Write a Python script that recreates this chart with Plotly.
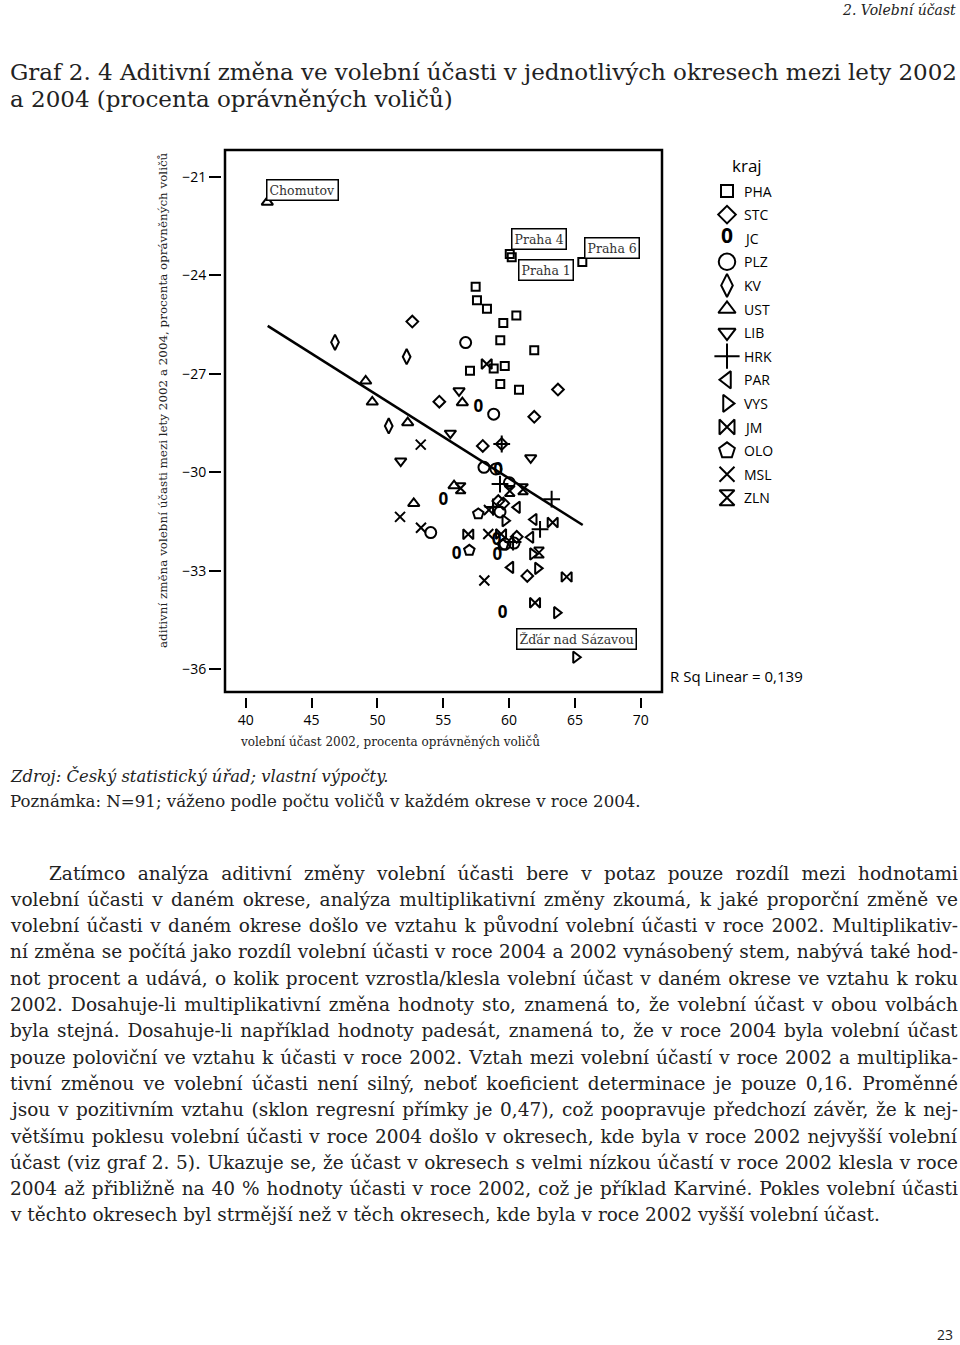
import json
import plotly.graph_objects as go

W, H = 960, 1345

# ---------------- data ----------------
kraje = ["PHA", "STC", "JC", "PLZ", "KV", "UST", "LIB", "HRK", "PAR", "VYS", "JM", "OLO", "MSL", "ZLN"]

PHA_x = [60.05, 60.2, 65.56, 57.46, 57.56, 58.32, 59.56, 60.55, 59.33, 61.91, 58.83, 59.67, 57.03, 59.33, 60.75]
PHA_y = [-23.35, -23.45, -23.59, -24.35, -24.76, -25.02, -25.45, -25.22, -25.98, -26.28, -26.84, -26.76, -26.91, -27.31, -27.49]

STC_x = [52.65, 54.70, 63.71, 61.91, 58.00, 59.44, 59.18, 59.56, 60.58, 61.38]
STC_y = [-25.41, -27.85, -27.48, -28.31, -29.20, -29.14, -30.88, -30.95, -31.97, -33.16]

JC_x = [57.66, 55.00, 59.16, 59.06, 56.02, 59.10, 59.51]
JC_y = [-28.05, -30.86, -29.95, -32.08, -32.52, -32.55, -34.30]

PLZ_x = [56.70, 58.83, 54.05, 58.09, 59.00, 60.02, 59.31, 59.69, 60.37]
PLZ_y = [-26.05, -28.23, -31.84, -29.85, -29.90, -30.32, -31.21, -32.19, -32.16]

KV_x = [46.78, 52.22, 50.86]
KV_y = [-26.04, -26.48, -28.59]

UST_x = [41.64, 49.11, 49.61, 52.30, 56.45, 52.76, 55.82]
UST_y = [-21.77, -27.22, -27.86, -28.49, -27.88, -30.95, -30.41]

LIB_x = [56.20, 51.77, 55.54, 61.64]
LIB_y = [-27.52, -29.66, -28.81, -29.56]

HRK_x = [59.44, 59.31, 63.23, 62.35, 58.78, 60.30]
HRK_y = [-29.14, -30.36, -30.82, -31.74, -31.06, -32.13]

PAR_x = [60.62, 61.89, 61.64, 60.12]
PAR_y = [-31.07, -31.44, -31.98, -32.90]

VYS_x = [59.69, 61.79, 62.17, 63.61, 65.06]
VYS_y = [-31.48, -32.49, -32.93, -34.28, -35.64]

JM_x = [58.30, 63.31, 56.90, 59.39, 64.37, 61.97]
JM_y = [-26.70, -31.53, -31.89, -31.88, -33.19, -33.98]

OLO_x = [57.66, 56.98, 59.54]
OLO_y = [-31.27, -32.38, -32.22]

MSL_x = [53.29, 51.72, 53.31, 58.47, 58.42, 58.12]
MSL_y = [-29.16, -31.36, -31.69, -31.15, -31.88, -33.30]

ZLN_x = [60.05, 61.06, 56.32, 62.27]
ZLN_y = [-30.57, -30.52, -30.49, -32.45]

fit_x = [41.67, 65.59]
fit_y = [-25.54, -31.61]

x_ticks = [40, 45, 50, 55, 60, 65, 70]
y_ticks = [-21, -24, -27, -30, -33, -36]

point_labels = ["Chomutov", "Praha 4", "Praha 1", "Praha 6", "Žďár nad Sázavou"]
label_points = [("UST", 0), ("PHA", 0), ("PHA", 1), ("PHA", 2), ("VYS", 4)]

r_sq_text = "R Sq Linear = 0,139"

data = {
    "PHA": (PHA_x, PHA_y), "STC": (STC_x, STC_y), "JC": (JC_x, JC_y),
    "PLZ": (PLZ_x, PLZ_y), "KV": (KV_x, KV_y), "UST": (UST_x, UST_y),
    "LIB": (LIB_x, LIB_y), "HRK": (HRK_x, HRK_y), "PAR": (PAR_x, PAR_y),
    "VYS": (VYS_x, VYS_y), "JM": (JM_x, JM_y), "OLO": (OLO_x, OLO_y),
    "MSL": (MSL_x, MSL_y), "ZLN": (ZLN_x, ZLN_y),
}

# ---------------- styles ----------------
SYM = {
    "PHA": ("square-open", 8), "STC": ("diamond-open", 9), "JC": (None, 0),
    "PLZ": ("circle-open", 11), "KV": ("diamond-tall-open", 11),
    "UST": ("triangle-up-open", 10), "LIB": ("triangle-down-open", 10),
    "HRK": ("cross-thin-open", 12), "PAR": ("triangle-left-open", 10),
    "VYS": ("triangle-right-open", 10), "JM": ("bowtie-open", 10),
    "OLO": ("pentagon-open", 11), "MSL": ("x-thin-open", 10),
    "ZLN": ("hourglass-open", 10),
}
LEG_SCALE = 1.5

SERIF = "DejaVu Serif"
SANS = "Open Sans"
TXT = "#222"


def px(x):
    return x / W


def py(y):
    return 1 - y / H


fig = go.Figure()

# regression line
fig.add_trace(go.Scatter(x=fit_x, y=fit_y, mode="lines",
                         line=dict(color="black", width=2.5),
                         showlegend=False, hoverinfo="skip"))

for k in kraje:
    xs, ys = data[k]
    sym, size = SYM[k]
    if sym is None:
        fig.add_trace(go.Scatter(x=xs, y=ys, mode="text", text=["0"] * len(xs),
                                 textfont=dict(family=SANS, size=17, color="black", weight="bold"),
                                 showlegend=False, name=k))
    else:
        fig.add_trace(go.Scatter(x=xs, y=ys, mode="markers", name=k, showlegend=False,
                                 marker=dict(symbol=sym, size=size, color="black",
                                             line=dict(color="black", width=2))))

# manual legend on its own axes
LEG_X0, LEG_X1 = 700, 830
leg_y_top, leg_step = 191, 23.6
for i, k in enumerate(kraje):
    sym, size = SYM[k]
    lx = (727 - LEG_X0) / (LEG_X1 - LEG_X0)
    if sym is None:
        fig.add_trace(go.Scatter(x=[lx], y=[i], mode="text", text=["0"],
                                 textfont=dict(family=SANS, size=21, color="black", weight="bold"),
                                 xaxis="x2", yaxis="y2", showlegend=False))
    else:
        fig.add_trace(go.Scatter(x=[lx], y=[i], mode="markers",
                                 marker=dict(symbol=sym, size=size * LEG_SCALE, color="black",
                                             line=dict(color="black", width=2)),
                                 xaxis="x2", yaxis="y2", showlegend=False))

annotations = []
for i, k in enumerate(kraje):
    annotations.append(dict(xref="paper", yref="paper", x=px(742), y=py(leg_y_top + i * leg_step),
                            xanchor="left", yanchor="middle", text=k, showarrow=False,
                            font=dict(family=SANS, size=14, color="black")))
annotations.append(dict(xref="paper", yref="paper", x=px(747), y=py(165), xanchor="center",
                        yanchor="middle", text="kraj", showarrow=False,
                        font=dict(family=SANS, size=17, color="black")))
annotations.append(dict(xref="paper", yref="paper", x=px(668), y=py(676), xanchor="left",
                        yanchor="middle", text=r_sq_text, showarrow=False,
                        font=dict(family=SANS, size=15, color="black")))

# point labels
label_style = {
    "Chomutov": dict(xanchor="left", yanchor="bottom", xshift=-1, yshift=1),
    "Praha 4": dict(xanchor="left", yanchor="bottom", xshift=1, yshift=4),
    "Praha 1": dict(xanchor="left", yanchor="top", xshift=6, yshift=-2),
    "Praha 6": dict(xanchor="left", yanchor="bottom", xshift=2, yshift=3),
    "Žďár nad Sázavou": dict(xanchor="center", yanchor="bottom", xshift=1, yshift=7),
}
for name, (k, idx) in zip(point_labels, label_points):
    xs, ys = data[k]
    st = label_style[name]
    annotations.append(dict(xref="x", yref="y", x=xs[idx], y=ys[idx], text=name, showarrow=False,
                            bordercolor="black", borderwidth=1.5, borderpad=2, bgcolor="white",
                            font=dict(family=SERIF, size=12.5, color="#333"), **st))

# axis titles
annotations.append(dict(xref="paper", yref="paper", x=px(238), y=py(741), xanchor="left",
                        yanchor="middle", showarrow=False,
                        text="volební účast 2002, procenta oprávněných voličů",
                        font=dict(family=SERIF, size=12, color=TXT)))
annotations.append(dict(xref="paper", yref="paper", x=px(163), y=py(400), xanchor="center",
                        yanchor="middle", showarrow=False, textangle=-90,
                        text="aditivní změna volební účasti mezi lety 2002 a 2004, procenta oprávněných voličů",
                        font=dict(family=SERIF, size=11.9, color=TXT)))

# page texts
annotations.append(dict(xref="paper", yref="paper", x=px(958), y=py(10), xanchor="right",
                        yanchor="middle", showarrow=False, text="<i>2. Volební účast</i>",
                        font=dict(family=SERIF, size=14, color=TXT)))
title_lines = ["Graf 2. 4 Aditivní změna ve volební účasti v jednotlivých okresech mezi lety 2002",
               "a 2004 (procenta oprávněných voličů)"]
for j, t in enumerate(title_lines):
    annotations.append(dict(xref="paper", yref="paper", x=px(8), y=py(72 + 27 * j), xanchor="left",
                            yanchor="middle", align="left", showarrow=False, text=t,
                            font=dict(family=SERIF, size=23, color=TXT)))

annotations.append(dict(xref="paper", yref="paper", x=px(8), y=py(776), xanchor="left",
                        yanchor="middle", showarrow=False,
                        text="<i>Zdroj: Český statistický úřad; vlastní výpočty.</i>",
                        font=dict(family=SERIF, size=16.4, color=TXT)))
annotations.append(dict(xref="paper", yref="paper", x=px(8), y=py(801), xanchor="left",
                        yanchor="middle", showarrow=False,
                        text="Poznámka: N=91; váženo podle počtu voličů v každém okrese v roce 2004.",
                        font=dict(family=SERIF, size=16.6, color=TXT)))

body_lines = [
    "Zatímco analýza aditivní změny volební účasti bere v potaz pouze rozdíl mezi hodnotami",
    "volební účasti v daném okrese, analýza multiplikativní změny zkoumá, k jaké proporční změně ve",
    "volební účasti v daném okrese došlo ve vztahu k původní volební účasti v roce 2002. Multiplikativ-",
    "ní změna se počítá jako rozdíl volební účasti v roce 2004 a 2002 vynásobený stem, nabývá také hod-",
    "not procent a udává, o kolik procent vzrostla/klesla volební účast v daném okrese ve vztahu k roku",
    "2002. Dosahuje-li multiplikativní změna hodnoty sto, znamená to, že volební účast v obou volbách",
    "byla stejná. Dosahuje-li například hodnoty padesát, znamená to, že v roce 2004 byla volební účast",
    "pouze poloviční ve vztahu k účasti v roce 2002. Vztah mezi volební účastí v roce 2002 a multiplika-",
    "tivní změnou ve volební účasti není silný, neboť koeficient determinace je pouze 0,16. Proměnné",
    "jsou v pozitivním vztahu (sklon regresní přímky je 0,47), což poopravuje předchozí závěr, že k nej-",
    "většímu poklesu volební účasti v roce 2004 došlo v okresech, kde byla v roce 2002 nejvyšší volební",
    "účast (viz graf 2. 5). Ukazuje se, že účast v okresech s velmi nízkou účastí v roce 2002 klesla v roce",
    "2004 až přibližně na 40 % hodnoty účasti v roce 2002, což je příklad Karviné. Pokles volební účasti",
    "v těchto okresech byl strmější než v těch okresech, kde byla v roce 2002 vyšší volební účast.",
]
for j, t in enumerate(body_lines):
    annotations.append(dict(xref="paper", yref="paper", x=px(47 if j == 0 else 8),
                            y=py(873 + 26.3 * j), xanchor="left", yanchor="middle", align="left",
                            showarrow=False, text=t,
                            font=dict(family=SERIF, size=18.5, color=TXT)))

annotations.append(dict(xref="paper", yref="paper", x=px(945), y=py(1334), xanchor="center",
                        yanchor="middle", showarrow=False, text="23",
                        font=dict(family=SANS, size=14, color=TXT)))

PLOT_L, PLOT_R, PLOT_T, PLOT_B = 222, 662, 150, 697

fig.update_layout(
    width=W, height=H,
    margin=dict(l=0, r=0, t=0, b=0),
    paper_bgcolor="white", plot_bgcolor="white",
    showlegend=False,
    xaxis=dict(domain=[px(PLOT_L), px(PLOT_R)], range=[38.2, 71.61], tickvals=x_ticks,
               ticks="outside", ticklen=10, tickwidth=2, tickcolor="black",
               showline=False, showgrid=False, zeroline=False,
               tickfont=dict(family=SANS, size=14, color="black"), anchor="y"),
    yaxis=dict(domain=[py(PLOT_B), py(PLOT_T)], range=[-36.85, -20.18], tickvals=y_ticks,
               ticks="outside", ticklen=12, tickwidth=2, tickcolor="black",
               showline=False, showgrid=False, zeroline=False,
               tickfont=dict(family=SANS, size=14, color="black"), anchor="x"),
    xaxis2=dict(domain=[px(LEG_X0), px(LEG_X1)], range=[0, 1], visible=False, anchor="y2"),
    yaxis2=dict(domain=[py(PLOT_B), py(PLOT_T)],
                range=[(PLOT_B - leg_y_top) / leg_step, (PLOT_T - leg_y_top) / leg_step],
                visible=False, anchor="x2"),
    shapes=[dict(type="rect", xref="x domain", yref="y domain",
                 x0=3 / (PLOT_R - PLOT_L), x1=1, y0=5 / (PLOT_B - PLOT_T), y1=1,
                 line=dict(color="black", width=2.5), layer="above")],
    annotations=annotations,
)

# justify the full lines of the paragraph and the title (right edge of the text block)
justify = {t: 958 for t in body_lines[:-1]}
justify[title_lines[0]] = 957
post = """
document.body.style.margin='0';document.body.style.overflow='hidden';
try {
  var J = %s;
  var gd = document.getElementById('{plot_id}');
  gd.querySelectorAll('text.annotation-text').forEach(function(el){
    var t = el.textContent;
    if (!(t in J)) return;
    var n = (t.match(/ /g) || []).length;
    if (!n) return;
    var r = el.getBoundingClientRect();
    el.style.wordSpacing = ((J[t] - r.right) / n) + 'px';
  });
} catch (e) {}
""" % json.dumps(justify, ensure_ascii=False)

fig.write_html("out.html", config={"displayModeBar": False}, post_script=post)
